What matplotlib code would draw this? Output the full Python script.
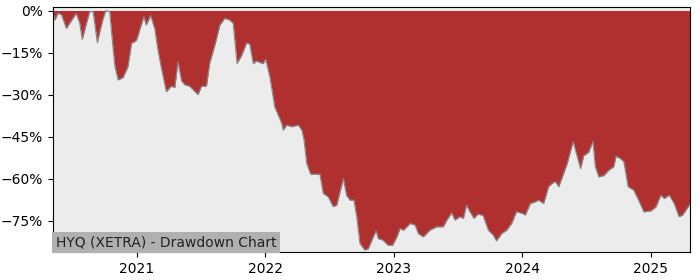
import matplotlib
matplotlib.use("Agg")
import matplotlib.pyplot as plt
import matplotlib.dates as mdates
from matplotlib.ticker import PercentFormatter
import pandas as pd

title = "HYQ (XETRA) - Drawdown Chart"

dates = [
    "2020-05-08", "2020-05-13", "2020-05-22", "2020-06-01", "2020-06-15", "2020-06-24",
    "2020-07-13", "2020-07-23", "2020-07-30", "2020-08-11", "2020-08-20", "2020-08-30",
    "2020-09-11", "2020-09-18", "2020-09-27", "2020-10-05", "2020-10-16", "2020-10-26",
    "2020-10-31", "2020-11-09", "2020-11-23", "2020-12-07", "2020-12-17", "2020-12-31",
    "2021-01-09", "2021-01-21", "2021-01-28", "2021-02-09", "2021-02-21", "2021-03-02",
    "2021-03-12", "2021-03-26", "2021-04-09", "2021-04-19", "2021-04-28", "2021-05-08",
    "2021-05-17", "2021-05-31", "2021-06-24", "2021-07-04", "2021-07-18", "2021-07-27",
    "2021-08-11", "2021-08-25", "2021-09-08", "2021-09-22", "2021-10-02", "2021-10-13",
    "2021-10-26", "2021-11-09", "2021-11-18", "2021-11-28", "2021-12-07", "2021-12-26",
    "2022-01-02", "2022-01-14", "2022-01-28", "2022-02-17", "2022-02-21", "2022-03-03",
    "2022-03-17", "2022-04-05", "2022-04-15", "2022-04-21", "2022-04-29", "2022-05-10",
    "2022-06-05", "2022-06-15", "2022-06-29", "2022-07-13", "2022-07-23", "2022-08-01",
    "2022-08-11", "2022-08-20", "2022-08-30", "2022-09-10", "2022-09-18", "2022-09-27",
    "2022-10-11", "2022-10-21", "2022-11-04", "2022-11-12", "2022-11-18", "2022-12-02",
    "2022-12-16", "2022-12-29", "2023-01-10", "2023-01-19", "2023-01-29", "2023-02-17",
    "2023-03-03", "2023-03-12", "2023-03-26", "2023-04-14", "2023-05-03", "2023-05-22",
    "2023-06-01", "2023-06-15", "2023-06-24", "2023-07-08", "2023-07-18", "2023-07-27",
    "2023-08-06", "2023-08-17", "2023-08-29", "2023-09-12", "2023-09-27", "2023-10-11",
    "2023-10-20", "2023-11-04", "2023-11-18", "2023-12-02", "2023-12-16", "2024-01-01",
    "2024-01-10", "2024-01-24", "2024-02-07", "2024-02-17", "2024-03-02", "2024-03-16",
    "2024-03-26", "2024-04-05", "2024-04-14", "2024-04-28", "2024-05-08", "2024-05-17",
    "2024-05-25", "2024-06-03", "2024-06-15", "2024-06-24", "2024-07-08", "2024-07-20",
    "2024-07-27", "2024-08-06", "2024-08-20", "2024-09-03", "2024-09-17", "2024-09-24",
    "2024-10-06", "2024-10-16", "2024-10-28", "2024-11-13", "2024-11-27", "2024-12-12",
    "2025-01-01", "2025-01-15", "2025-01-29", "2025-02-08", "2025-02-22", "2025-03-08",
    "2025-03-22", "2025-04-01", "2025-04-10", "2025-04-22",
]

drawdown = [
    -0.5, -3.4, -1.0, -1.5, -6.4, -4.6,
    -1.0, -4.6, -10.3, -4.6, -0.4, -0.4,
    -11.5, -7.5, -3.0, 0.0, -0.4, -14.0,
    -20.0, -24.8, -23.9, -20.0, -11.7, -10.7,
    -7.0, -2.2, -5.2, -1.8, -6.4, -14.0,
    -20.6, -29.0, -27.0, -27.5, -18.3, -25.0,
    -26.5, -27.0, -30.0, -27.0, -27.0, -18.9,
    -12.3, -5.2, -2.8, -3.4, -4.6, -18.9,
    -16.0, -11.6, -12.0, -19.0, -18.0, -19.0,
    -17.4, -23.6, -34.4, -40.3, -42.7, -40.9,
    -41.5, -40.9, -42.7, -46.0, -54.6, -58.4,
    -58.4, -65.3, -66.5, -70.0, -69.5, -65.0,
    -60.0, -66.0, -67.7, -67.7, -73.6, -83.1,
    -85.5, -85.0, -80.8, -78.6, -81.4, -82.0,
    -83.8, -83.8, -80.8, -77.8, -78.4, -76.0,
    -76.6, -79.6, -80.8, -78.4, -77.2, -77.2,
    -74.8, -72.2, -74.8, -73.6, -74.2, -69.5,
    -71.9, -74.2, -72.6, -73.2, -78.4, -80.2,
    -82.2, -79.6, -78.4, -76.0, -71.8, -72.4,
    -73.0, -68.9, -68.3, -67.7, -68.9, -62.9,
    -61.7, -61.1, -62.9, -58.1, -54.6, -50.4,
    -46.8, -51.0, -56.4, -51.8, -50.6, -46.8,
    -55.8, -59.4, -58.9, -57.0, -55.8, -52.0,
    -52.8, -54.0, -62.9, -64.1, -67.7, -71.9,
    -71.5, -70.1, -65.9, -67.1, -65.9, -68.9,
    -73.6, -73.0, -71.3, -69.1,
]

yticks = [0, -15, -30, -45, -60, -75]

x = pd.to_datetime(dates)

fig = plt.figure(figsize=(7, 2.8), dpi=100)
ax = fig.add_axes([0.0757, 0.1, 0.91, 0.875])
ax.set_facecolor("#ececec")

ax.fill_between(x, drawdown, 0, color="#b03030", linewidth=0)
ax.plot(x, drawdown, color="#888888", linewidth=0.8)

ax.set_xlim(x[0], x[-1])
ax.set_ylim(-86.2, 1.25)
ax.set_yticks(yticks)
ax.yaxis.set_major_formatter(PercentFormatter(decimals=0))
ax.xaxis.set_major_locator(mdates.YearLocator())
ax.xaxis.set_major_formatter(mdates.DateFormatter("%Y"))
ax.tick_params(labelsize=10)

ax.text(0.004, 0.012, title, transform=ax.transAxes, fontsize=10,
        ha="left", va="bottom", color="#222222",
        bbox=dict(facecolor="#b0b0b0", edgecolor="none", pad=2.5))

fig.savefig("out.png", dpi=100)
